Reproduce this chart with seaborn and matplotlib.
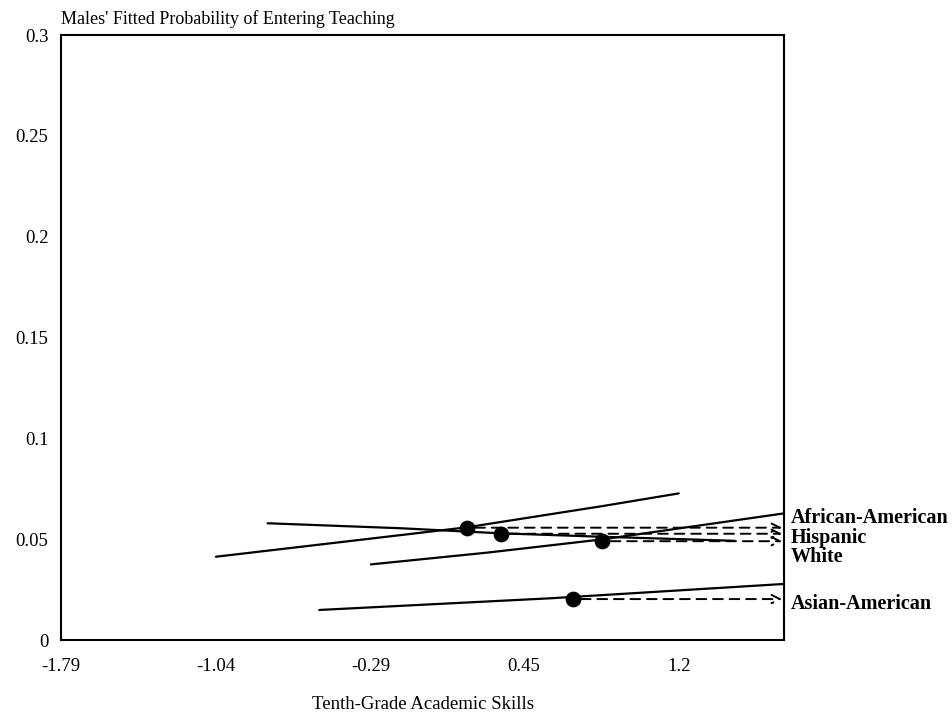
import pandas as pd
import matplotlib
matplotlib.use('Agg')
import matplotlib.pyplot as plt
import seaborn as sns

# fitted curves, one per group
groups = ['African-American', 'Hispanic', 'White', 'Asian-American']

aa_x = [-1.04, -0.14, 0.175, 0.83, 1.2]
aa_y = [0.0413, 0.0521, 0.0559, 0.0664, 0.0727]

hisp_x = [-0.79, -0.14, 0.34, 0.83, 1.47]
hisp_y = [0.0579, 0.0554, 0.0529, 0.0512, 0.0492]

white_x = [-0.29, 0.27, 0.83, 1.71]
white_y = [0.0375, 0.0433, 0.0499, 0.0628]

asian_x = [-0.54, 0.58, 1.71]
asian_y = [0.0149, 0.0207, 0.0278]

# group means (dots) and label heights
mean_x = [0.175, 0.34, 0.83, 0.686]
mean_y = [0.0557, 0.0527, 0.0490, 0.0203]
label_y = [0.0607, 0.0507, 0.0411, 0.0180]

x_ticks = [-1.79, -1.04, -0.29, 0.45, 1.2]
x_ticklabels = ['-1.79', '-1.04', '-0.29', '0.45', '1.2']
y_ticks = [0, 0.05, 0.1, 0.15, 0.2, 0.25, 0.3]
y_ticklabels = ['0', '0.05', '0.1', '0.15', '0.2', '0.25', '0.3']

curves = pd.concat([
    pd.DataFrame({'skill': aa_x, 'prob': aa_y, 'group': groups[0]}),
    pd.DataFrame({'skill': hisp_x, 'prob': hisp_y, 'group': groups[1]}),
    pd.DataFrame({'skill': white_x, 'prob': white_y, 'group': groups[2]}),
    pd.DataFrame({'skill': asian_x, 'prob': asian_y, 'group': groups[3]}),
], ignore_index=True)
means = pd.DataFrame({'skill': mean_x, 'prob': mean_y, 'group': groups})

sns.set_style('white')
plt.rcParams['font.family'] = ['Liberation Serif', 'DejaVu Serif']
plt.rcParams['text.color'] = 'black'
plt.rcParams['axes.labelcolor'] = 'black'
plt.rcParams['xtick.color'] = 'black'
plt.rcParams['ytick.color'] = 'black'

fig = plt.figure(figsize=(9.52, 7.12), dpi=100)
ax = fig.add_axes([0.0641, 0.1011, 0.7595, 0.8497])

sns.lineplot(data=curves, x='skill', y='prob', units='group', estimator=None,
             color='black', linewidth=1.6, sort=False, ax=ax)
sns.scatterplot(data=means, x='skill', y='prob', color='black', s=110,
                edgecolor='black', zorder=5, ax=ax)

x_end = 1.70
for gx, gy in zip(mean_x, mean_y):
    ax.annotate('', xy=(x_end, gy), xytext=(gx, gy),
                arrowprops=dict(arrowstyle='->,head_length=0.6,head_width=0.3',
                                color='black', lw=1.4, linestyle=(0, (5, 3.5)),
                                shrinkA=6, shrinkB=0))

for name, ly in zip(groups, label_y):
    ax.text(1.0097, ly, name, transform=ax.get_yaxis_transform(),
            ha='left', va='center', fontsize=14.5, fontweight='bold')

ax.set_xlim(-1.79, 1.71)
ax.set_ylim(0, 0.3)
ax.set_xticks(x_ticks)
ax.set_xticklabels(x_ticklabels)
ax.set_yticks(y_ticks)
ax.set_yticklabels(y_ticklabels)
ax.tick_params(axis='x', length=0, pad=13, labelsize=13.5)
ax.tick_params(axis='y', length=0, pad=9, labelsize=13.5)

for side in ['top', 'bottom', 'left', 'right']:
    ax.spines[side].set_visible(True)
    ax.spines[side].set_color('black')
    ax.spines[side].set_linewidth(1.5)

ax.set_xlabel('Tenth-Grade Academic Skills', fontsize=13.5)
ax.xaxis.set_label_coords(0.5, -0.093)
ax.set_ylabel('')
ax.text(0.0, 1.026, "Males' Fitted Probability of Entering Teaching",
        transform=ax.transAxes, ha='left', va='center', fontsize=13)

fig.savefig('out.png', dpi=100)
